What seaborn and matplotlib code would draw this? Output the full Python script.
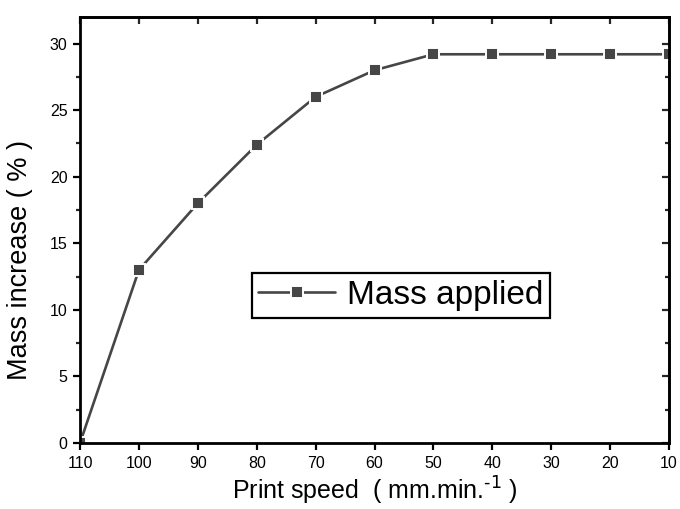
import matplotlib
matplotlib.use("Agg")
import matplotlib.pyplot as plt
from matplotlib.ticker import MultipleLocator
import seaborn as sns
import pandas as pd

# Print speed (mm/min) and the resulting mass increase (%)
print_speed = [110, 100, 90, 80, 70, 60, 50, 40, 30, 20, 10]
mass_increase = [0.0, 13.0, 18.0, 22.4, 26.0, 28.0, 29.2, 29.2, 29.2, 29.2, 29.2]
series_label = "Mass applied"
x_ticks = [110, 100, 90, 80, 70, 60, 50, 40, 30, 20, 10]
y_ticks = [0, 5, 10, 15, 20, 25, 30]

df = pd.DataFrame({"speed": print_speed, "mass": mass_increase})

sns.set_style("ticks")
plt.rcParams["font.family"] = ["Liberation Sans", "DejaVu Sans"]
plt.rcParams["mathtext.default"] = "regular"
plt.rcParams["text.color"] = "black"
plt.rcParams["axes.labelcolor"] = "black"

fig = plt.figure(figsize=(6.8, 5.09), dpi=100)
ax = fig.add_axes([80 / 680, 1 - 443 / 509, 589 / 680, 426 / 509])

line_color = "#464646"
sns.lineplot(data=df, x="speed", y="mass", ax=ax, color=line_color,
             linewidth=1.9, marker="s", markersize=8,
             markerfacecolor=line_color, markeredgecolor="white",
             markeredgewidth=1.4, label=series_label)

ax.set_xlim(110, 10)
ax.set_ylim(0, 32)
ax.set_xticks(x_ticks)
ax.set_yticks(y_ticks)
ax.yaxis.set_minor_locator(MultipleLocator(2.5))

for side in ["left", "right", "top", "bottom"]:
    ax.spines[side].set_visible(True)
    ax.spines[side].set_linewidth(2.0)
    ax.spines[side].set_color("black")

ax.tick_params(axis="both", which="major", labelsize=11.5, width=1.6,
               length=5, color="black", labelcolor="black")
ax.tick_params(axis="y", which="major", direction="out", left=True, right=False, pad=4)
ax.tick_params(axis="y", which="minor", direction="out", left=True, right=False,
               width=1.6, length=3)
ax.tick_params(axis="x", which="major", direction="out", bottom=True, top=False, pad=4)
ax.tick_params(axis="x", which="minor", bottom=False, top=False)

# inward ticks on the opposite spines
sec_y = ax.secondary_yaxis("right")
sec_y.set_yticks(y_ticks)
sec_y.yaxis.set_minor_locator(MultipleLocator(2.5))
sec_y.tick_params(which="major", direction="in", length=5, width=1.6, labelright=False)
sec_y.tick_params(which="minor", direction="in", length=3, width=1.6)
sec_y.spines["right"].set_linewidth(2.0)

sec_x = ax.secondary_xaxis("top")
sec_x.set_xticks(x_ticks)
sec_x.tick_params(which="major", direction="in", length=5, width=1.6, labeltop=False)
sec_x.spines["top"].set_linewidth(2.0)

ax.set_xlabel(r"Print speed  ( mm.min.$^{\text{-1}}$ )", fontsize=18, labelpad=3)
ax.set_ylabel("Mass increase ( % )", fontsize=19.5)
ax.yaxis.set_label_coords(-0.08, 0.43)

leg = ax.legend(loc="center", bbox_to_anchor=(0.545, 0.346), fontsize=24,
                frameon=True, fancybox=False, edgecolor="black",
                handlelength=2.3, handletextpad=0.36, borderpad=0.2,
                borderaxespad=0, numpoints=1)
leg.get_frame().set_linewidth(1.6)
leg.get_frame().set_alpha(1)
for txt in leg.get_texts():
    txt.set_color("black")

fig.savefig("out.png", dpi=100, facecolor="white")
